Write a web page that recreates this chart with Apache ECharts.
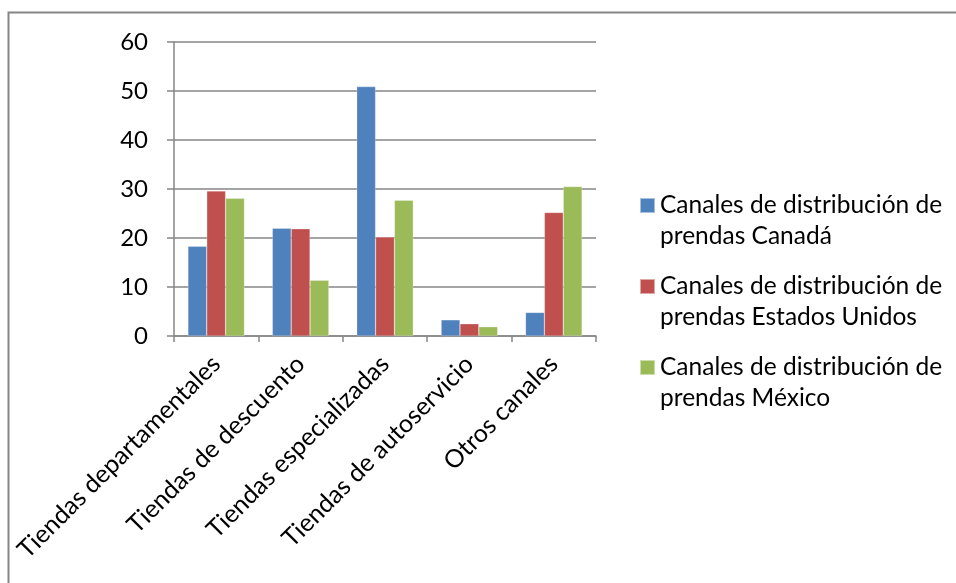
<!DOCTYPE html>
<html>
<head>
<meta charset="utf-8">
<script src="https://cdn.jsdelivr.net/npm/echarts@6/dist/echarts.min.js"></script>
<style>html,body{margin:0;padding:0;background:#fff}#c{width:956px;height:583px}</style>
</head>
<body>
<div id="c"></div>
<script>
const categories = ['Tiendas departamentales', 'Tiendas de descuento', 'Tiendas especializadas', 'Tiendas de autoservicio', 'Otros canales'];
const seriesNames = ['Canales de distribución de prendas Canadá', 'Canales de distribución de prendas Estados Unidos', 'Canales de distribución de prendas México'];
const canada = [18.3, 22.0, 50.9, 3.3, 4.8];
const estadosUnidos = [29.6, 21.9, 20.2, 2.5, 25.2];
const mexico = [28.1, 11.4, 27.7, 1.9, 30.5];
const yTicks = [0, 10, 20, 30, 40, 50, 60];
const colors = ['#4F81BD', '#C0504D', '#9BBB59'];

const FONT = 'Lato';
const chart = echarts.init(document.getElementById('c'), null, {renderer: 'canvas'});
const values = [canada, estadosUnidos, mexico];
chart.setOption({
  animation: false,
  textStyle: {fontFamily: FONT},
  graphic: [{
    type: 'rect', shape: {x: 8.5, y: 12.5, width: 1000, height: 1000},
    style: {fill: 'none', stroke: '#868686', lineWidth: 2}, silent: true, z: -10
  }],
  grid: {left: 174, right: 360, top: 42, bottom: 247, containLabel: false},
  legend: {
    orient: 'vertical', left: 639, top: 159, padding: 0,
    itemWidth: 15, itemHeight: 15, itemGap: -12,
    icon: 'rect',
    data: seriesNames,
    formatter: function (n) { return '\n' + n.replace(' prendas', '\nprendas'); },
    textStyle: {fontFamily: FONT, fontSize: 24.5, color: '#000', lineHeight: 31}
  },
  xAxis: {
    type: 'category', data: categories,
    axisLine: {lineStyle: {color: '#868686', width: 1.5}},
    axisTick: {show: true, length: 6, lineStyle: {color: '#868686', width: 1.5}},
    axisLabel: {rotate: 45, interval: 0, margin: 24, color: '#000', fontFamily: FONT, fontSize: 25}
  },
  yAxis: {
    type: 'value', min: yTicks[0], max: yTicks[yTicks.length - 1], interval: 10,
    axisLine: {show: true, lineStyle: {color: '#868686', width: 1.5}},
    axisTick: {show: true, length: 7, lineStyle: {color: '#868686', width: 1.5}},
    splitLine: {show: true, lineStyle: {color: '#868686', width: 1.5}},
    axisLabel: {margin: 26, color: '#000', fontFamily: FONT, fontSize: 24}
  },
  series: seriesNames.map((n, i) => ({
    name: n, type: 'bar', data: values[i],
    barGap: '0%', barCategoryGap: '33%',
    itemStyle: {color: colors[i], borderColor: 'rgba(255,255,255,0.5)', borderWidth: 0.5}
  }))
});
</script>
</body>
</html>
